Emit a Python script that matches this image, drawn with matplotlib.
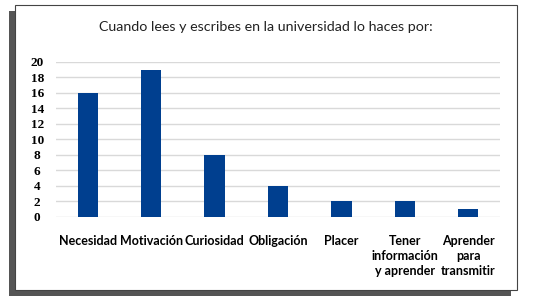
import matplotlib
matplotlib.use('Agg')
from matplotlib import pyplot as plt
from matplotlib.patches import Rectangle

# Data
categories = ['Necesidad', 'Motivación', 'Curiosidad', 'Obligación', 'Placer',
              'Tener\ninformación\ny aprender', 'Aprender\npara\ntransmitir']
values = [16, 19, 8, 4, 2, 2, 1]
yticks = list(range(0, 21, 2))

W, H = 534, 301
fig = plt.figure(figsize=(W / 100, H / 100), dpi=100)
fig.patch.set_facecolor('white')

# frame with dark shadow on left / bottom
fig.patches.append(Rectangle((9 / W, (H - 296) / H), 502 / W, 285 / H,
                             transform=fig.transFigure, facecolor='#555555',
                             edgecolor='none', zorder=0))
fig.patches.append(Rectangle((15 / W, (H - 290) / H), 502 / W, 285 / H,
                             transform=fig.transFigure, facecolor='white',
                             edgecolor='#444444', linewidth=0.8, zorder=1))

ax = fig.add_axes([56 / W, (H - 216.7) / H, 444 / W, 154.7 / H])
ax.set_facecolor('none')
ax.set_zorder(2)

x = range(len(categories))
ax.bar(x, values, width=0.32, color='#003f8f', zorder=3)
ax.set_xlim(-0.5, len(categories) - 0.5)
ax.set_ylim(0, 20)
ax.set_yticks(yticks)
ax.set_yticklabels([str(t) for t in yticks], fontsize=9.5, fontweight='bold',
                   family='Liberation Serif')
ax.set_xticks(list(x))
ax.set_xticklabels(categories, fontsize=9, fontweight='bold', family='Lato',
                   linespacing=1.3)
ax.tick_params(axis='x', length=0, pad=13)
ax.tick_params(axis='y', length=0, pad=13.5)
for lab in ax.get_yticklabels():
    lab.set_horizontalalignment('center')
ax.grid(axis='y', color='#d9d9d9', linewidth=1, zorder=0)
for s in ax.spines.values():
    s.set_visible(False)

fig.text(266 / W, (H - 27) / H, 'Cuando lees y escribes en la universidad lo haces por:',
         ha='center', va='center', fontsize=10.3, family='Lato', color='#222222')

fig.savefig('out.png', dpi=100)
